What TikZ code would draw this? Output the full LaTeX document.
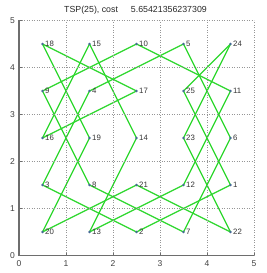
\documentclass[tikz,border=0pt]{standalone}
\usepackage{fontspec}
\setmainfont{Liberation Sans}
\usetikzlibrary{backgrounds}
\definecolor{tourgreen}{RGB}{45,215,45}
\definecolor{dotblue}{RGB}{70,105,150}
\definecolor{axisgray}{RGB}{110,110,110}
\definecolor{gridgray}{RGB}{150,150,150}
\tikzset{
  city/.style={circle,fill=dotblue,inner sep=0pt,minimum size=2.6pt},
  citylbl/.style={font=\fontsize{7.8}{8}\selectfont,text=black!80,inner sep=0.6pt},
  tour/.style={draw=tourgreen,line width=1.2pt,line join=round},
  gridline/.style={draw=gridgray,line width=0.6pt,dash pattern=on 0.6pt off 1.9pt},
  axisline/.style={draw=axisgray,line width=1.2pt},
  ticklbl/.style={font=\fontsize{8.5}{9}\selectfont,text=black!75,inner sep=0pt},
  titlelbl/.style={font=\fontsize{8.8}{10}\selectfont,text=black!85,inner sep=0pt}
}
\begin{document}
\begin{tikzpicture}[x=1pt,y=1pt]
\useasboundingbox (0,0) rectangle (267,273);
\begin{scope}[shift={(19,17.5)},x=47pt,y=47pt]
  % grid
  \foreach \g in {1,2,3,4,5} {
    \draw[gridline] (\g,0) -- (\g,5);
    \draw[gridline] (0,\g) -- (5,\g);
  }
  % axes
  \draw[axisline] (0,5) -- (0,0) -- (5,0);
  \foreach \g in {1,2,3,4,5} {
    \draw[draw=axisgray,line width=0.8pt] (\g,0) -- (\g,0.06);
    \draw[draw=axisgray,line width=0.8pt] (0,\g) -- (0.06,\g);
  }
  \foreach \g in {0,1,2,3,4,5} {
    \node[ticklbl,anchor=north] (xt\g) at ([yshift=-4.5pt]\g,0) {\g};
    \node[ticklbl,anchor=east] (yt\g) at ([xshift=-4pt]0,\g) {\g};
  }
  % cities
  \foreach \n/\x/\y in {18/0.5/4.5,15/1.5/4.5,10/2.5/4.5,5/3.5/4.5,24/4.5/4.5,
                        9/0.5/3.5,4/1.5/3.5,17/2.5/3.5,25/3.5/3.5,11/4.5/3.5,
                        16/0.5/2.5,19/1.5/2.5,14/2.5/2.5,23/3.5/2.5,6/4.5/2.5,
                        3/0.5/1.5,8/1.5/1.5,21/2.5/1.5,12/3.5/1.5,1/4.5/1.5,
                        20/0.5/0.5,13/1.5/0.5,2/2.5/0.5,7/3.5/0.5,22/4.5/0.5} {
    \node[city,label={[citylbl,label distance=0.4pt]right:\n}] (n\n) at (\x,\y) {};
  }
  % tour
  \begin{pgfonlayer}{background}
    \foreach \a/\b in {1/2,2/3,3/4,4/5,5/6,6/7,7/8,8/9,9/10,10/11,11/12,12/13,
                       13/14,14/15,15/16,16/17,17/18,18/19,19/20,20/21,21/22,
                       22/23,23/24,24/25,25/1} {
      \draw[tour] (n\a.center) -- (n\b.center);
    }
  \end{pgfonlayer}
\end{scope}
\node[titlelbl] (title) at (135.5,262.5) {TSP(25), cost\hspace{13pt}5.65421356237309};
\end{tikzpicture}
\end{document}
